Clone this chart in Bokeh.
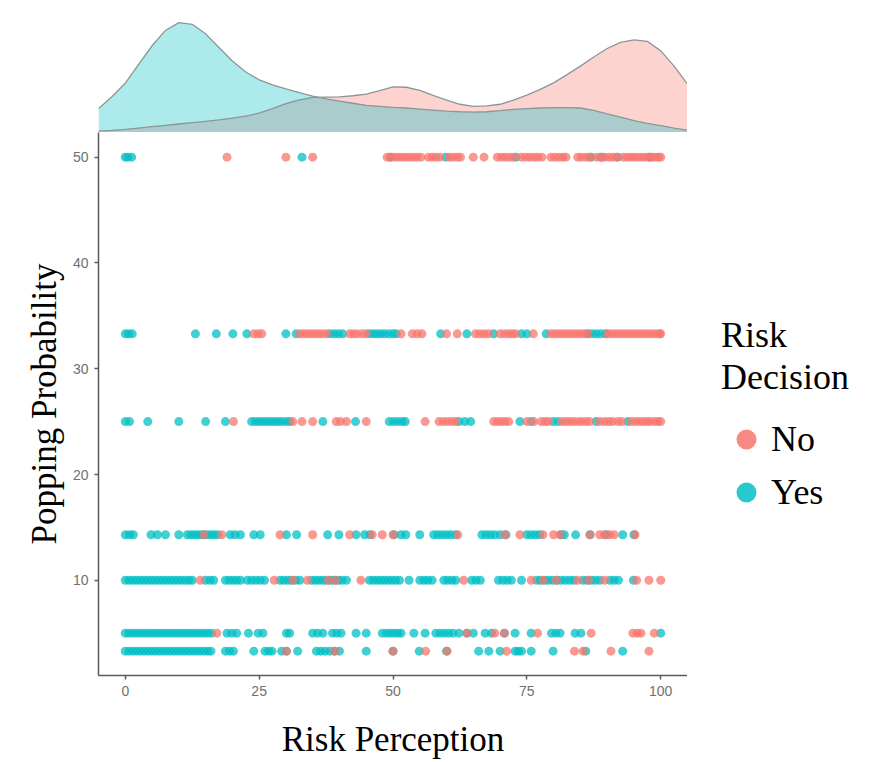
from bokeh.plotting import figure
from bokeh.layouts import column, row
from bokeh.models import Range1d, Legend, LegendItem, FixedTicker
from bokeh.embed import file_html
from bokeh.resources import INLINE

# ---------------- data ----------------
x_ticks = [0, 25, 50, 75, 100]
y_ticks = [10, 20, 30, 40, 50]
levels = [50, 33.3, 25, 14.3, 10, 5, 3.3]

# Risk Decision = "Yes" (teal)
yes_50 = [0, 0.5, 1.2, 33, 49.5, 59.8, 73, 87, 89, 92, 98]
yes_33 = [0, 0.6, 1.3, 13.1, 17, 20.1, 22.7, 30, 31.9, 38.2, 39, 39.8, 40.6,
          45.6, 46.3, 47, 47.7, 48.4, 49.2, 50, 50.6, 58.9, 63.8, 68.8, 74, 75,
          78.6, 86.4, 87.2, 88, 88.8, 89.7]
yes_25 = [0, 0.8, 4.2, 10, 15, 18.7, 23.6, 24.3, 25, 25.7, 26.4, 27.1, 27.8,
          28.5, 29.2, 30, 30.7, 36.9, 43, 49.3, 50.1, 50.9, 51.7, 52.3, 62.3,
          63.4, 64.5, 73.7, 75.8, 79.9, 80.8, 87.9, 93.8]
yes_14 = [0, 0.8, 1.5, 4.8, 6, 7.5, 10, 11.6, 12.3, 13, 13.7, 14.4, 15.1, 15.8,
          16.5, 17.2, 19.6, 20.5, 21.5, 24, 25.2, 30.1, 32, 37.8, 39.9, 43.1,
          44.7, 45.7, 50.2, 51.5, 52.4, 55, 57.6, 58.4, 59.2, 60, 60.8, 61.7,
          66.6, 67.4, 68.2, 69, 70, 71.1, 75, 75.8, 76.6, 77.4, 81.4, 82, 84.1,
          86.8, 89.8, 92.9, 95]
yes_10 = [0, 0.7, 1.4, 2.1, 2.8, 3.5, 4.2, 4.9, 5.6, 6.3, 7, 7.7, 8.4, 9.1,
          9.8, 10.5, 11.2, 11.9, 12.5, 15, 15.8, 16.5, 18.7, 19.4, 20.1, 20.8,
          21.5, 22.8, 23.6, 24.4, 25.2, 26, 28.9, 29.6, 30.3, 31, 31.8, 32.6,
          34.8, 35.5, 36.2, 36.9, 37.6, 38.4, 39.1, 39.8, 40.5, 41.3, 45.6,
          46.3, 47, 47.7, 48.4, 49.1, 49.8, 50.5, 51.2, 53, 55, 55.8, 56.5,
          57.3, 59.5, 60.2, 61, 61.7, 64.7, 65.5, 66.3, 69.7, 70.5, 71.3, 72.1,
          74, 76.8, 77.5, 78.3, 79, 79.8, 80.6, 81.4, 82.2, 83, 83.8, 85.5,
          86.3, 87, 87.8, 88.6, 90.5, 91.3, 92.1, 94.9]
yes_5 = [0, 0.7, 1.4, 2.1, 2.8, 3.5, 4.2, 4.9, 5.6, 6.3, 7, 7.7, 8.4, 9.1, 9.8,
         10.5, 11.2, 11.9, 12.6, 13.3, 14, 14.7, 15.4, 16.1, 19, 19.9, 20.8,
         23, 24.8, 25.7, 30.1, 30.7, 35, 35.9, 36.9, 38.7, 39.5, 40.3, 43.1,
         45, 48, 48.8, 49.5, 50.2, 50.9, 51.5, 53.9, 56, 58, 58.8, 59.6, 60.4,
         61.2, 62.3, 63.8, 65, 67.2, 68.4, 70.8, 72.8, 75.8, 79.6, 80.4, 81.2,
         84, 85.1, 100]
yes_3 = [0, 0.7, 1.4, 2.1, 2.8, 3.5, 4.2, 4.9, 5.6, 6.3, 7, 7.7, 8.4, 9.1, 9.8,
         10.5, 11.2, 11.9, 12.6, 13.3, 14, 14.7, 15.4, 16, 18.7, 19.5, 20.2,
         24, 26.1, 26.8, 27.4, 29.2, 30.1, 32.2, 35.7, 36.5, 37.3, 38.2, 39.1,
         40, 45, 50, 54.9, 60, 66, 67.9, 70, 72.8, 73.4, 74, 75.8, 79.9, 86,
         92.9]

# Risk Decision = "No" (salmon)
no_50 = [19, 30, 35, 48.9, 49.6, 50.3, 51, 51.7, 52.4, 53.1, 53.8, 54.5, 55.2,
         56.6, 57.3, 58, 58.7, 60.5, 61.2, 62, 62.6, 65, 67, 69.5, 70.3, 71,
         71.8, 72.5, 74, 74.8, 75.5, 76.3, 77, 77.8, 79.5, 80.2, 81, 81.7, 82.3,
         84.5, 85.2, 86, 86.7, 88, 88.7, 89.5, 90.3, 91, 91.7, 93, 93.7, 94.4,
         95, 95.7, 96.4, 97, 97.7, 98.4, 99, 99.6, 100]
no_33 = [24, 24.8, 25.5, 32.6, 33.3, 34, 34.7, 35.4, 36.1, 36.8, 37.6, 41.9,
         42.6, 43.3, 44.2, 45, 51.5, 53.6, 54.5, 55.4, 60, 62, 65.4, 66.2, 67,
         67.8, 70, 70.8, 71.6, 72.3, 72.9, 76.2, 79.5, 80.2, 80.9, 81.6, 82.3,
         83, 83.7, 84.4, 85.1, 85.8, 86.4, 90, 90.7, 91.4, 92.1, 92.8, 93.5,
         94.2, 94.9, 95.6, 96.3, 97, 97.7, 98.4, 99.1, 99.8, 100]
no_25 = [20.2, 31.3, 33, 35, 39.4, 40.2, 41.3, 45, 56, 58.6, 59.4, 60.2, 61,
         61.7, 68.8, 69.5, 70.2, 70.9, 71.6, 75, 76.3, 77.7, 78.4, 79, 81.6,
         82.3, 83, 83.7, 84.5, 85.2, 86, 86.7, 88.6, 89.5, 90.3, 91, 92, 92.7,
         94.5, 95.3, 96, 96.7, 97.4, 98, 98.8, 99.5, 100]
no_14 = [14.7, 18, 28.9, 35, 41.9, 46.1, 48, 50, 62.1, 70.9, 73.7, 78, 80,
         81.2, 86.8, 88.6, 89.5, 90.4, 91.3, 95.2]
no_10 = [14, 27.8, 31.3, 34, 37.9, 39.3, 44, 63.2, 75.8, 78, 80.5, 84.5, 86.5,
         89.5, 95.5, 97.8, 100]
no_5 = [17.1, 63.8, 69, 70.8, 77, 87, 94.8, 95.6, 96.3, 98.8]
no_3 = [30.1, 39.1, 50, 56.1, 60.1, 71.2, 83.9, 85.5, 90.7, 97.8]

# marginal density (top panel)
dens_x = [-5, -2.5, 0, 2.5, 5, 7.5, 10, 12.5, 15, 17.5, 20, 22.5, 25, 27.5, 30,
          32.5, 35, 37.5, 40, 42.5, 45, 47.5, 50, 52.5, 55, 57.5, 60, 62.5, 65,
          67.5, 70, 72.5, 75, 77.5, 80, 82.5, 85, 87.5, 90, 92.5, 95, 97.5,
          100, 102.5, 105]
dens_yes = [70, 105, 145, 200, 255, 300, 323, 318, 290, 250, 210, 178, 155, 140,
            128, 117, 107, 99, 92, 86, 80, 77, 74, 72, 69, 66, 63, 61, 60, 61,
            64, 68, 70, 72, 73, 73, 72, 65, 55, 45, 35, 27, 20, 13, 7]
dens_no = [4, 6, 9, 13, 17, 21, 25, 29, 33, 37, 42, 48, 57, 70, 85, 96, 103,
           104, 105, 108, 113, 123, 134, 133, 124, 109, 95, 83, 77, 78, 83, 95,
           110, 127, 146, 170, 195, 222, 247, 265, 272, 268, 240, 195, 142]
dens_yes = [v / 10000 for v in dens_yes]
dens_no = [v / 10000 for v in dens_no]

NO_COLOR = "#F8766D"
YES_COLOR = "#00BFC4"
SERIF = "Liberation Serif"
SANS = "Liberation Sans"

# ---------------- assemble points ----------------
yes_rows = [yes_50, yes_33, yes_25, yes_14, yes_10, yes_5, yes_3]
no_rows = [no_50, no_33, no_25, no_14, no_10, no_5, no_3]
yes_x, yes_y, no_x, no_y = [], [], [], []
for lev, r in zip(levels, yes_rows):
    yes_x += r
    yes_y += [lev] * len(r)
for lev, r in zip(levels, no_rows):
    no_x += r
    no_y += [lev] * len(r)

# ---------------- main scatter ----------------
p = figure(width=687, height=630, x_range=Range1d(-5, 105),
           y_range=Range1d(1.0, 52.33), output_backend="svg",
           toolbar_location=None, min_border_left=98, min_border_right=0,
           min_border_top=0, min_border_bottom=87,
           x_axis_label="Risk Perception", y_axis_label="Popping Probability")
p.outline_line_color = None
p.grid.visible = False

r_yes = p.scatter(yes_x, yes_y, size=9, color=YES_COLOR, alpha=0.75,
                  line_color=None)
r_no = p.scatter(no_x, no_y, size=9, color=NO_COLOR, alpha=0.75,
                 line_color=None)

p.xaxis.ticker = FixedTicker(ticks=x_ticks)
p.yaxis.ticker = FixedTicker(ticks=y_ticks)
for ax in (p.xaxis[0], p.yaxis[0]):
    ax.axis_line_color = "#5a5a5a"
    ax.axis_line_width = 1.5
    ax.major_tick_line_color = "#5a5a5a"
    ax.major_tick_line_width = 1.5
    ax.major_tick_in = 0
    ax.major_tick_out = 4
    ax.minor_tick_line_color = None
    ax.major_label_text_color = "#707070"
    ax.major_label_text_font = SANS
    ax.major_label_text_font_size = "14px"
    ax.axis_label_text_font = SERIF
    ax.axis_label_text_font_size = "35px"
    ax.axis_label_text_font_style = "normal"
    ax.axis_label_text_color = "black"
p.xaxis[0].axis_label_standoff = 21
p.yaxis[0].axis_label_standoff = 6
p.xaxis[0].major_label_standoff = 6
p.yaxis[0].major_label_standoff = 6

# ---------------- top marginal density ----------------
m = figure(width=687, height=132, x_range=p.x_range,
           y_range=Range1d(0, 0.0388), output_backend="svg",
           toolbar_location=None, x_axis_type=None, y_axis_type=None,
           min_border_left=98, min_border_right=0, min_border_top=0,
           min_border_bottom=0)
m.outline_line_color = None
m.varea(x=dens_x, y1=0, y2=dens_no, fill_color=NO_COLOR, fill_alpha=0.32)
m.varea(x=dens_x, y1=0, y2=dens_yes, fill_color=YES_COLOR, fill_alpha=0.32)
m.line(dens_x, dens_no, line_color="#8c9696", line_width=1.3)
m.line(dens_x, dens_yes, line_color="#8c9696", line_width=1.3)

# ---------------- legend panel ----------------
lg = figure(width=183, height=762, x_range=Range1d(0, 1), y_range=Range1d(0, 1),
            output_backend="svg", toolbar_location=None, x_axis_type=None,
            y_axis_type=None, min_border_left=0, min_border_right=0,
            min_border_top=0, min_border_bottom=0)
lg.outline_line_color = None
nan = float("nan")
# legend proxies (no visible data marks)
lg_no = lg.scatter([nan], [nan], size=9, color=NO_COLOR, alpha=0.85,
                   line_color=None)
lg_yes = lg.scatter([nan], [nan], size=9, color=YES_COLOR, alpha=0.85,
                    line_color=None)
legend = Legend(items=[LegendItem(label="No", renderers=[lg_no], index=0),
                       LegendItem(label="Yes", renderers=[lg_yes], index=0)],
                title="Risk\nDecision", location=(34, 245))
legend.title_text_font = SERIF
legend.title_text_font_size = "36px"
legend.title_text_font_style = "normal"
legend.title_text_color = "black"
legend.title_standoff = 16
legend.label_text_font = SERIF
legend.label_text_font_size = "36px"
legend.label_text_color = "black"
legend.glyph_width = 50
legend.glyph_height = 50
legend.label_standoff = 0
legend.spacing = 3
legend.border_line_color = None
legend.background_fill_alpha = 0
legend.padding = 10
legend.margin = 0
lg.add_layout(legend)

layout = row(column(m, p, spacing=0), lg, spacing=0)
open("out.html", "w").write(file_html(layout, INLINE))
